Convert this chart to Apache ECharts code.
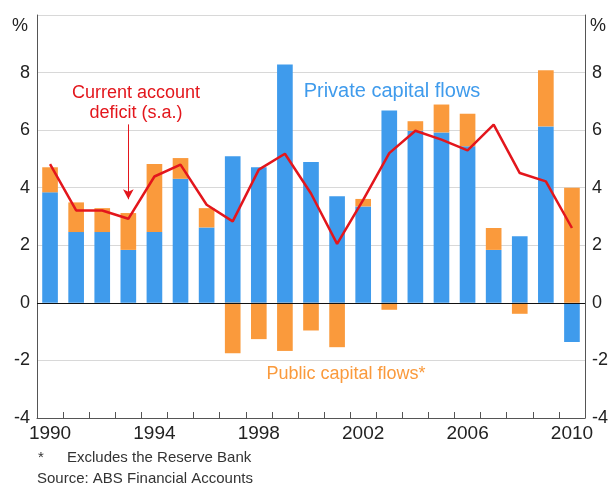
<!DOCTYPE html>
<html>
<head>
<meta charset="utf-8">
<script src="https://cdn.jsdelivr.net/npm/echarts@6/dist/echarts.min.js"></script>
<style>
    html, body { margin: 0; padding: 0; background: #fff; }
    #chart { width: 611px; height: 486px; }
</style>
</head>
<body>
<div id="chart"></div>
<script>
    // 年份
    var years = ['1990', '1991', '1992', '1993', '1994', '1995', '1996', '1997', '1998', '1999', '2000',
                 '2001', '2002', '2003', '2004', '2005', '2006', '2007', '2008', '2009', '2010'];
    // 私人资本流动
    var privateFlows = [3.84, 2.46, 2.46, 1.84, 2.46, 4.31, 2.62, 5.09, 4.71, 8.28, 4.89,
                        3.70, 3.35, 6.68, 5.98, 5.92, 5.44, 1.84, 2.31, 6.13, -1.36];
    // 公共资本流动
    var publicFlows = [0.87, 1.03, 0.83, 1.28, 2.36, 0.72, 0.67, -1.75, -1.26, -1.67, -0.96,
                       -1.54, 0.26, -0.24, 0.33, 0.97, 1.13, 0.76, -0.38, 1.95, 4.0];
    // 经常账户赤字
    var deficit = [4.82, 3.21, 3.21, 2.92, 4.39, 4.8, 3.41, 2.83, 4.63, 5.18, 3.8,
                   2.05, 3.58, 5.2, 5.98, 5.67, 5.3, 6.19, 4.51, 4.22, 2.6];
    var yTicks = [-4, -2, 0, 2, 4, 6, 8];

    var font = 'Liberation Sans, Arial, sans-serif';
    var blue = '#3f9bec';
    var orange = '#fa9a3c';
    var red = '#e3161c';

    var myChart = echarts.init(document.getElementById('chart'));

    var yAxisBase = {
        type: 'value',
        min: -4,
        max: 10,
        interval: 2,
        axisLine: { show: true, lineStyle: { color: '#555', width: 1 } },
        axisTick: { show: false },
        splitLine: { show: true, lineStyle: { color: '#d8d8d8', width: 1 } },
        axisLabel: {
            color: '#222',
            fontSize: 18,
            fontFamily: font,
            formatter: function (v) {
                return yTicks.indexOf(v) === -1 ? '' : String(v);
            }
        }
    };

    var option = {
        animation: false,
        backgroundColor: '#fff',
        grid: { left: 37, right: 26, top: 15, bottom: 68 },
        xAxis: {
            type: 'category',
            data: years,
            boundaryGap: true,
            axisLine: { show: true, onZero: false, lineStyle: { color: '#555', width: 1 } },
            axisTick: { show: true, inside: true, length: 6, interval: 0, lineStyle: { color: '#555' } },
            axisLabel: {
                color: '#222',
                fontSize: 19,
                fontFamily: font,
                margin: 6,
                interval: 0,
                formatter: function (v, i) {
                    return i % 4 === 0 ? v : '';
                }
            }
        },
        yAxis: [
            echarts.util.merge({ position: 'left', axisLabel: { margin: 7 } }, yAxisBase, true),
            echarts.util.merge({ position: 'right', axisLabel: { margin: 7 }, splitLine: { show: false } }, yAxisBase, true)
        ],
        series: [
            {
                name: 'Private capital flows',
                type: 'bar',
                stack: 'flows',
                data: privateFlows,
                barWidth: '60%',
                itemStyle: { color: blue },
                markLine: {
                    silent: true,
                    symbol: 'none',
                    label: { show: false },
                    lineStyle: { color: '#111', type: 'solid', width: 1.2 },
                    data: [{ yAxis: 0 }]
                }
            },
            {
                name: 'Public capital flows',
                type: 'bar',
                stack: 'flows',
                data: publicFlows,
                barWidth: '60%',
                itemStyle: { color: orange }
            },
            {
                name: 'Current account deficit',
                type: 'line',
                data: deficit,
                symbol: 'none',
                z: 5,
                lineStyle: { color: red, width: 2.5 },
                markLine: {
                    silent: true,
                    symbol: ['none', 'arrow'],
                    symbolSize: [8, 10],
                    label: { show: false },
                    lineStyle: { color: red, type: 'solid', width: 1 },
                    data: [[{ coord: ['1993', 6.2] }, { coord: ['1993', 3.6] }]]
                }
            }
        ],
        graphic: [
            { type: 'text', left: 12, top: 17, style: { text: '%', fontSize: 18, fontFamily: font, fill: '#222' } },
            { type: 'text', left: 590, top: 17, style: { text: '%', fontSize: 18, fontFamily: font, fill: '#222' } },
            { type: 'text', x: 136, y: 93, style: { text: 'Current account', fontSize: 18, fontFamily: font, fill: red, align: 'center', verticalAlign: 'middle' } },
            { type: 'text', x: 136, y: 113, style: { text: 'deficit (s.a.)', fontSize: 18, fontFamily: font, fill: red, align: 'center', verticalAlign: 'middle' } },
            { type: 'text', x: 392, y: 91, style: { text: 'Private capital flows', fontSize: 20, fontFamily: font, fill: blue, align: 'center', verticalAlign: 'middle' } },
            { type: 'text', x: 346, y: 374, style: { text: 'Public capital flows*', fontSize: 18, fontFamily: font, fill: orange, align: 'center', verticalAlign: 'middle' } },
            { type: 'text', left: 38, top: 450, style: { text: '*', fontSize: 15, fontFamily: font, fill: '#333' } },
            { type: 'text', left: 67, top: 450, style: { text: 'Excludes the Reserve Bank', fontSize: 15, fontFamily: font, fill: '#333' } },
            { type: 'text', left: 37, top: 471, style: { text: 'Source: ABS Financial Accounts', fontSize: 15, fontFamily: font, fill: '#333' } }
        ]
    };

    myChart.setOption(option);
</script>
</body>
</html>
